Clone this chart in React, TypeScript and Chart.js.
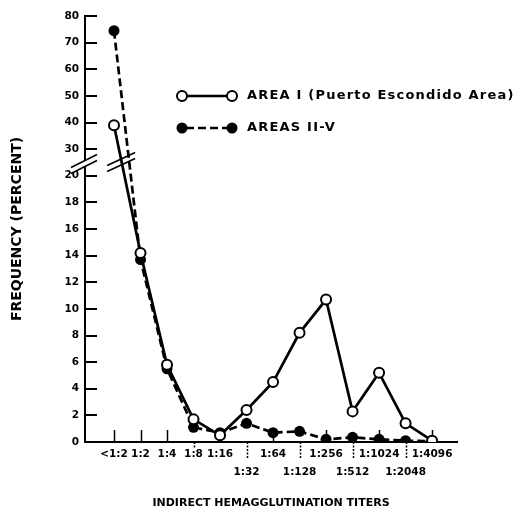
import React, { useEffect, useRef } from "react";
import { Chart, registerables } from "chart.js";

Chart.register(...registerables);

// ---- data ----
const titers = ["<1:2", "1:2", "1:4", "1:8", "1:16", "1:32", "1:64", "1:128", "1:256", "1:512", "1:1024", "1:2048", "1:4096"];
const areaI = [39, 14.2, 5.8, 1.7, 0.5, 2.4, 4.5, 8.2, 10.7, 2.3, 5.2, 1.4, 0.1];
const areasIIV = [74.5, 13.7, 5.5, 1.1, 0.7, 1.4, 0.7, 0.8, 0.2, 0.35, 0.2, 0.1, 0.05];
const yTickValues = [0, 2, 4, 6, 8, 10, 12, 14, 16, 18, 20, 30, 40, 50, 60, 70, 80];
const areaILabel = "AREA I (Puerto Escondido Area)";
const areasLabel = "AREAS II-V";
const yTitle = "FREQUENCY (PERCENT)";
const xTitle = "INDIRECT HEMAGGLUTINATION TITERS";

// broken axis: 0-20 in steps of 2, then 30-80 in steps of 10, each step same height
const BREAK = 20;
const toAxis = (v: number) => (v <= BREAK ? v / 2 : BREAK / 2 + (v - BREAK) / 10);
const isLowerRow = (i: number) => i >= 5 && i % 2 === 1;

const FONT = "DejaVu Sans";

const decorPlugin = {
  id: "decor",
  beforeDatasetsDraw(chart: any) {
    const { ctx, chartArea, scales } = chart;
    const x = scales.x;
    const y = scales.y;
    ctx.save();
    ctx.strokeStyle = "#000";
    ctx.lineWidth = 2;
    // y ticks pointing inward
    yTickValues.forEach((v) => {
      const py = Math.round(y.getPixelForValue(toAxis(v)));
      ctx.beginPath();
      ctx.moveTo(chartArea.left, py);
      ctx.lineTo(chartArea.left + 12, py);
      ctx.stroke();
    });
    // x ticks: up for upper-row labels, down for lower-row labels
    ctx.lineWidth = 1.5;
    titers.forEach((_, i) => {
      const px = Math.round(x.getPixelForValue(i)) + 0.5;
      ctx.beginPath();
      if (isLowerRow(i)) {
        ctx.setLineDash([2, 1.5]);
        ctx.moveTo(px, chartArea.bottom);
        ctx.lineTo(px, chartArea.bottom + 16);
      } else if (i === 3) {
        ctx.setLineDash([2, 1.5]);
        ctx.moveTo(px, chartArea.bottom);
        ctx.lineTo(px, chartArea.bottom + 6);
      } else {
        ctx.setLineDash([]);
        ctx.moveTo(px, chartArea.bottom);
        ctx.lineTo(px, chartArea.bottom - 12);
      }
      ctx.stroke();
    });
    ctx.setLineDash([]);
    // axis break
    const cy = (y.getPixelForValue(toAxis(20)) + y.getPixelForValue(toAxis(30))) / 2 + 1;
    const L = chartArea.left;
    ctx.fillStyle = "#fff";
    ctx.beginPath();
    ctx.moveTo(L - 14, cy + 4);
    ctx.lineTo(L + 12, cy - 9);
    ctx.lineTo(L + 12, cy - 3);
    ctx.lineTo(L - 14, cy + 10);
    ctx.closePath();
    ctx.fill();
    ctx.lineWidth = 1.6;
    ctx.beginPath();
    ctx.moveTo(L - 14, cy + 4);
    ctx.lineTo(L + 12, cy - 9);
    ctx.moveTo(L - 14, cy + 10);
    ctx.lineTo(L + 12, cy - 3);
    ctx.stroke();
    ctx.restore();
  },
  afterDraw(chart: any) {
    const { ctx, chartArea, scales } = chart;
    const x = scales.x;
    const y = scales.y;
    ctx.save();
    ctx.strokeStyle = "#000";
    ctx.lineWidth = 1.6;
    // break marks across the data lines
    const cy = (y.getPixelForValue(toAxis(20)) + y.getPixelForValue(toAxis(30))) / 2;
    const cx = x.getPixelForValue(0.27);
    ctx.beginPath();
    ctx.moveTo(cx - 14, cy + 3);
    ctx.lineTo(cx + 14, cy - 10);
    ctx.moveTo(cx - 14, cy + 9);
    ctx.lineTo(cx + 14, cy - 4);
    ctx.stroke();

    // legend
    const lx1 = chartArea.left + 97;
    const lx2 = chartArea.left + 147;
    const r1 = 96;
    const r2 = 128;
    ctx.lineWidth = 2.5;
    ctx.beginPath();
    ctx.moveTo(lx1, r1);
    ctx.lineTo(lx2, r1);
    ctx.stroke();
    ctx.setLineDash([8, 4]);
    ctx.beginPath();
    ctx.moveTo(lx1 + 4, r2);
    ctx.lineTo(lx2 - 4, r2);
    ctx.stroke();
    ctx.setLineDash([]);
    ctx.lineWidth = 2;
    [lx1, lx2].forEach((px) => {
      ctx.beginPath();
      ctx.arc(px, r1, 5, 0, Math.PI * 2);
      ctx.fillStyle = "#fff";
      ctx.fill();
      ctx.stroke();
      ctx.beginPath();
      ctx.arc(px, r2, 5.5, 0, Math.PI * 2);
      ctx.fillStyle = "#000";
      ctx.fill();
    });
    ctx.fillStyle = "#000";
    ctx.font = `bold 13px "${FONT}"`;
    (ctx as any).letterSpacing = "1.2px";
    ctx.textBaseline = "middle";
    ctx.textAlign = "left";
    ctx.fillText(areaILabel, lx2 + 15, r1);
    ctx.fillText(areasLabel, lx2 + 15, r2);
    ctx.restore();
  },
};

export default function App() {
  const canvasRef = useRef<HTMLCanvasElement | null>(null);

  useEffect(() => {
    if (!canvasRef.current) return;
    const chart = new Chart(canvasRef.current, {
      type: "line",
      data: {
        datasets: [
          {
            label: areaILabel,
            data: areaI.map((v, i) => ({ x: i, y: toAxis(v) })),
            borderColor: "#000",
            borderWidth: 2.7,
            pointRadius: 5,
            pointBorderWidth: 2,
            pointBackgroundColor: "#fff",
            pointBorderColor: "#000",
            tension: 0,
          },
          {
            label: areasLabel,
            data: areasIIV.map((v, i) => ({ x: i, y: toAxis(v) })),
            borderColor: "#000",
            borderWidth: 2.7,
            borderDash: [8, 4],
            pointRadius: 5.5,
            pointBorderWidth: 0,
            pointBackgroundColor: "#000",
            pointBorderColor: "#000",
            tension: 0,
          },
        ],
      },
      options: {
        animation: false,
        responsive: true,
        maintainAspectRatio: false,
        layout: { padding: { top: 16, right: 65, left: 0, bottom: 0 } },
        plugins: {
          legend: { display: false },
          tooltip: { enabled: false },
        },
        scales: {
          x: {
            type: "linear",
            min: -1.094,
            max: 12.94,
            grid: { display: false, drawTicks: false },
            border: { display: true, color: "#000", width: 2 },
            afterBuildTicks: (s: any) => {
              s.ticks = titers.map((_, i) => ({ value: i }));
            },
            afterFit: (s: any) => {
              s.height = 73;
            },
            ticks: {
              autoSkip: false,
              maxRotation: 0,
              minRotation: 0,
              padding: 3,
              color: "#000",
              font: { family: FONT, weight: "bold", size: 10.5, lineHeight: 1.72 },
              callback: (_v: any, i: number) => (isLowerRow(i) ? ["", titers[i]] : titers[i]),
            },
            title: {
              display: true,
              text: xTitle,
              color: "#000",
              font: { family: FONT, weight: "bold", size: 11, lineHeight: 1.2 },
              padding: { top: 0, bottom: 5 },
            },
          },
          y: {
            type: "linear",
            min: 0,
            max: toAxis(80),
            grid: { display: false, drawTicks: false },
            border: { display: true, color: "#000", width: 2 },
            afterBuildTicks: (s: any) => {
              s.ticks = yTickValues.map((v) => ({ value: toAxis(v) }));
            },
            afterFit: (s: any) => {
              s.width = 85;
            },
            ticks: {
              autoSkip: false,
              padding: 6,
              color: "#000",
              font: { family: FONT, weight: "bold", size: 10.5 },
              callback: (_v: any, i: number) => String(yTickValues[i]),
            },
            title: {
              display: true,
              text: yTitle,
              color: "#000",
              font: { family: FONT, weight: "bold", size: 14, lineHeight: 1.2 },
              padding: { top: 9, bottom: 0 },
            },
          },
        },
      },
      plugins: [decorPlugin],
    });
    return () => chart.destroy();
  }, []);

  return (
    <div style={{ position: "fixed", left: 0, top: 0, width: 522, height: 515, background: "#fff" }}>
      <canvas ref={canvasRef} />
    </div>
  );
}
